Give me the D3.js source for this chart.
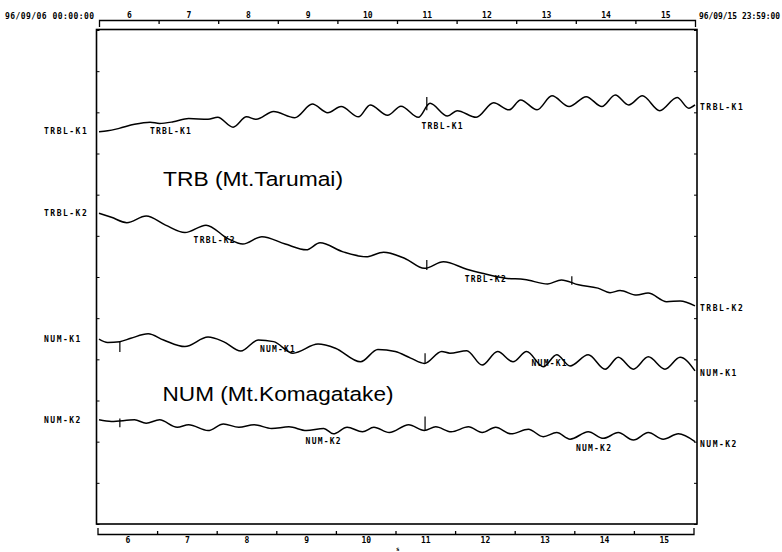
<!DOCTYPE html>
<html>
<head>
<meta charset="utf-8">
<script src="https://cdn.jsdelivr.net/npm/d3@7"></script>
<style>
  body { margin: 0; background: #fff; }
  .small { font-family: "DejaVu Sans Mono", monospace; font-weight: bold; font-size: 8px; fill: #000; }
  .title { font-family: "Liberation Sans", Arial, sans-serif; font-size: 20.5px; fill: #000; }
</style>
</head>
<body>
<script>
// time in hours from 96/09/06 00:00, level in frame divisions (12 divisions)
var dayLabels = ["6", "7", "8", "9", "10", "11", "12", "13", "14", "15"];
var startLabel = "96/09/06 00:00:00";
var endLabel = "96/09/15 23:59:00";

var trblK1 = [[0, 9.53], [3.5, 9.55], [8.1, 9.61], [14.3, 9.71], [20.6, 9.76], [24.4, 9.73], [29.9, 9.77],
              [36.1, 9.85], [43.9, 9.83], [47.8, 9.88], [54.0, 9.64], [59.4, 9.89], [63.3, 9.83], [70.3, 10.02],
              [78.8, 9.87], [85.9, 10.20], [92.1, 9.99], [97.5, 10.14], [104.5, 9.89], [109.2, 10.18], [116.2, 9.93],
              [121.6, 10.15], [128.6, 9.88], [133.3, 10.22], [140.3, 9.91], [144.2, 10.04], [151.9, 9.88], [158.9, 10.23],
              [165.1, 10.06], [169.8, 10.30], [176.4, 10.06], [182.4, 10.40], [189.3, 10.14], [196.2, 10.38], [202.5, 10.14],
              [207.9, 10.42], [213.3, 10.18], [218.8, 10.40], [225.8, 10.04], [232.8, 10.36], [237.5, 10.10], [240, 10.18]];

var trblK2 = [[0, 7.55], [5.0, 7.45], [11.2, 7.32], [19.0, 7.48], [26.8, 7.26], [34.6, 7.08], [43.1, 7.26],
              [51.7, 6.94], [57.9, 6.80], [65.6, 6.98], [75.0, 6.80], [83.5, 6.66], [89.0, 6.83], [98.3, 6.61],
              [107.6, 6.49], [114.6, 6.60], [123.2, 6.45], [131.0, 6.21], [138.7, 6.37], [148.1, 6.19], [154.3, 6.09],
              [163.6, 5.97], [171.4, 5.94], [180.7, 5.83], [186.2, 5.93], [193.1, 5.81], [200.9, 5.73], [205.8, 5.62],
              [209.8, 5.67], [216.5, 5.56], [221.1, 5.61], [228.6, 5.40], [234.0, 5.42], [240, 5.30]];

var numK1 = [[0, 4.49], [3.5, 4.41], [8.4, 4.43], [12.8, 4.51], [19.8, 4.62], [26.0, 4.47], [34.6, 4.31],
             [43.9, 4.54], [50.1, 4.43], [57.1, 4.20], [64.1, 4.47], [70.3, 4.43], [78.1, 4.15], [88.2, 4.37],
             [95.2, 4.27], [105.3, 3.94], [112.3, 4.24], [119.3, 4.19], [125.5, 4.03], [131.0, 3.90], [138.0, 4.19],
             [141.3, 4.15], [148.1, 4.21], [154.3, 3.86], [160.5, 4.19], [166.7, 3.94], [172.2, 4.19], [178.9, 3.82],
             [184.3, 4.11], [189.7, 3.84], [197.0, 4.11], [203.8, 3.76], [209.1, 4.05], [215.2, 3.76], [221.2, 4.06],
             [227.9, 3.76], [234.0, 4.05], [240, 3.72]];

var numK2 = [[0, 2.53], [5.0, 2.49], [14.3, 2.53], [19.0, 2.45], [24.4, 2.53], [31.5, 2.35], [36.1, 2.41],
             [43.9, 2.27], [50.1, 2.43], [56.3, 2.35], [62.5, 2.41], [69.5, 2.32], [76.5, 2.36], [83.5, 2.27],
             [90.5, 2.32], [94.4, 2.19], [99.9, 2.35], [106.1, 2.24], [110.7, 2.35], [116.9, 2.22], [124.7, 2.41],
             [131.0, 2.27], [135.6, 2.36], [141.8, 2.24], [148.8, 2.36], [154.3, 2.22], [159.7, 2.35], [165.9, 2.19],
             [172.9, 2.30], [178.9, 2.12], [184.3, 2.22], [189.7, 2.06], [197.0, 2.24], [203.1, 2.08], [209.1, 2.22],
             [215.2, 2.04], [221.2, 2.22], [227.2, 2.06], [233.3, 2.19], [240, 2.00]];

// short vertical marks on the traces: [hours, low, high]
var spikes = [[132.0, 10.05, 10.37], [132.0, 6.17, 6.41], [190.4, 5.81, 6.02],
              [8.4, 4.18, 4.42], [131.3, 3.90, 4.15], [8.4, 2.35, 2.56], [131.3, 2.28, 2.61]];

var seriesNames = ["TRBL-K1", "TRBL-K2", "NUM-K1", "NUM-K2"];
var seriesData = [trblK1, trblK2, numK1, numK2];
// inline labels [hours, level] two per trace
var inlineLabels = [[[20.5, 9.55], [129.9, 9.67]], [[38.1, 6.90], [147.3, 5.95]],
                    [[64.8, 4.25], [174.2, 3.90]], [[83.2, 2.00], [192.1, 1.85]]];
var titles = ["TRB (Mt.Tarumai)", "NUM (Mt.Komagatake)"];
var titleLevels = [8.2, 3.0];

var svg = d3.select("body")
            .append('svg')
            .attr("width", 782)
            .attr("height", 552);

var x = d3.scaleLinear()
          .domain([0, 240])
          .range([99, 695]);

var y = d3.scaleLinear()
          .domain([0, 12])
          .range([524, 30]);

var dayTicks = d3.range(24, 240, 24);
var noonTicks = d3.range(12, 240, 24);

// top time axis
var topAxis = svg.append("g")
                 .attr("transform", "translate(0,20)");
topAxis.call(d3.axisTop(x).tickValues(dayTicks).tickSizeInner(-4).tickSizeOuter(-7).tickFormat(""));
topAxis.append("g")
       .call(d3.axisTop(x).tickValues(noonTicks).tickSize(0).tickPadding(2).tickFormat((d, i) => dayLabels[i]))
       .call(g => g.select(".domain").remove());

// bottom time axis
var bottomAxis = svg.append("g")
                    .attr("transform", "translate(-1.5,534)");
bottomAxis.call(d3.axisBottom(x).tickValues(dayTicks).tickSizeInner(-3).tickSizeOuter(-6).tickFormat(""));
bottomAxis.append("g")
          .call(d3.axisBottom(x).tickValues(noonTicks).tickSize(0).tickPadding(3).tickFormat((d, i) => dayLabels[i]))
          .call(g => g.select(".domain").remove());

svg.selectAll(".tick text")
   .attr("class", "small")
   .attr("font-family", null)
   .attr("font-size", null);
svg.selectAll(".domain, .tick line")
   .attr("stroke", "#000")
   .attr("stroke-width", 1.3);

svg.append("text").attr("class", "small").attr("x", 5).attr("y", 18.5)
   .style("letter-spacing", "0.45px").text(startLabel);
svg.append("text").attr("class", "small").attr("x", 699).attr("y", 18.5)
   .attr("textLength", 81).attr("lengthAdjust", "spacingAndGlyphs")
   .text(endLabel);

// frame with division ticks
svg.append("rect")
   .attr("x", 96.5).attr("y", 29.5)
   .attr("width", 600.5).attr("height", 494.5)
   .attr("fill", "none")
   .attr("stroke", "#000")
   .attr("stroke-width", 1.6);

svg.append("g")
   .attr("transform", "translate(96.5,0)")
   .call(d3.axisLeft(y).ticks(12).tickSize(-3).tickFormat(""))
   .call(g => g.select(".domain").remove());
svg.append("g")
   .attr("transform", "translate(697,0)")
   .call(d3.axisRight(y).ticks(12).tickSize(-3).tickFormat(""))
   .call(g => g.select(".domain").remove());

var line = d3.line()
             .x(d => x(d[0]))
             .y(d => y(d[1]))
             .curve(d3.curveMonotoneX);

svg.selectAll(".trace")
   .data(seriesData).enter()
   .append("path")
   .attr("class", "trace")
   .attr("d", line)
   .attr("fill", "none")
   .attr("stroke", "#000")
   .attr("stroke-width", 1.5);

svg.selectAll(".spike")
   .data(spikes).enter()
   .append("line")
   .attr("x1", d => x(d[0])).attr("x2", d => x(d[0]))
   .attr("y1", d => y(d[1])).attr("y2", d => y(d[2]))
   .attr("stroke", "#000")
   .attr("stroke-width", 1.2);

// channel names at both ends and along the traces
seriesData.forEach(function(s, i) {
    svg.append("text").attr("class", "small")
       .attr("x", 44).attr("y", y(s[0][1])).attr("dy", "0.35em")
       .style("letter-spacing", "1.5px").text(seriesNames[i]);
    svg.append("text").attr("class", "small")
       .attr("x", 700).attr("y", y(s[s.length - 1][1]) + 2.5).attr("dy", "0.35em")
       .style("letter-spacing", "1.5px").text(seriesNames[i]);
    inlineLabels[i].forEach(function(p) {
        svg.append("text").attr("class", "small")
           .attr("x", x(p[0])).attr("y", y(p[1])).attr("dy", "0.35em")
           .style("letter-spacing", "1.2px").text(seriesNames[i]);
    });
});

svg.append("text").attr("class", "title")
   .attr("x", 163).attr("y", y(titleLevels[0]))
   .attr("textLength", 180).attr("lengthAdjust", "spacingAndGlyphs")
   .text(titles[0]);
svg.append("text").attr("class", "title")
   .attr("x", 162.5).attr("y", y(titleLevels[1]))
   .attr("textLength", 231).attr("lengthAdjust", "spacingAndGlyphs")
   .text(titles[1]);

svg.append("text").attr("class", "small")
   .attr("x", 396).attr("y", 551)
   .style("font-size", "6px")
   .text("s");
</script>
</body>
</html>
